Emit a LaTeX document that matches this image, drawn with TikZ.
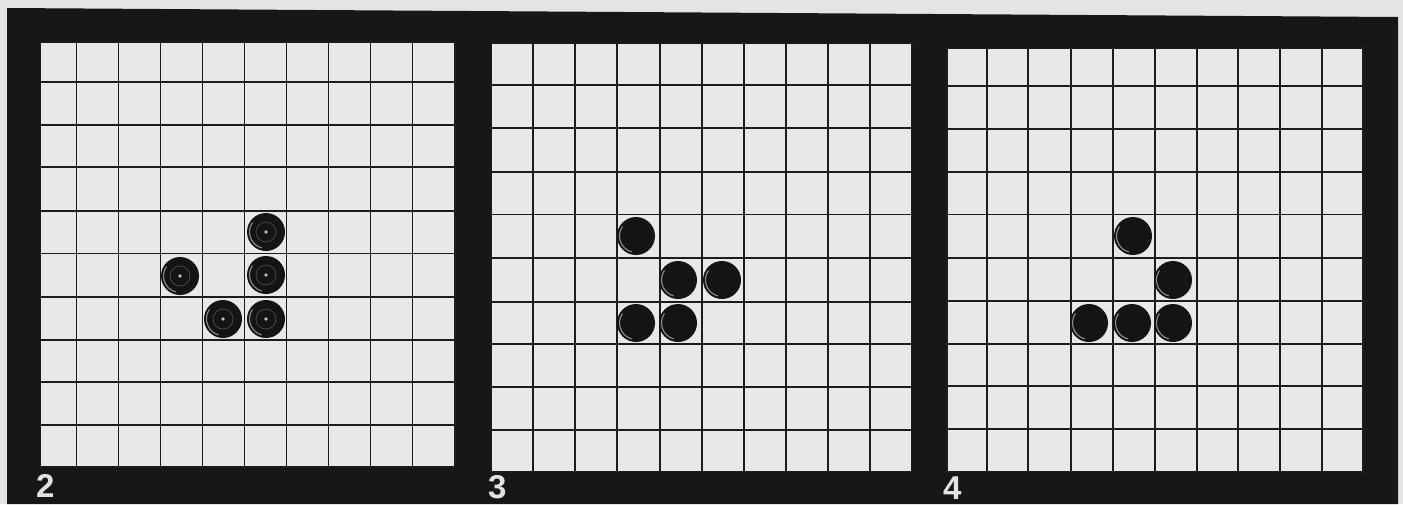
\documentclass[tikz,border=0pt]{standalone}
\usepackage{fontspec}
\setmainfont{Liberation Sans}
\definecolor{paper}{HTML}{E4E4E4}
\definecolor{frame}{HTML}{171717}
\definecolor{cell}{HTML}{E8E8E8}
\definecolor{gline}{HTML}{1C1C1C}
\definecolor{cblack}{HTML}{141414}
\definecolor{labelc}{HTML}{E2E2E2}
\tikzset{
  gridline/.style={draw=gline, line width=1.7pt},
  boardrect/.style={fill=cell},
  counter/.style={circle, fill=cblack, minimum size=38pt, inner sep=0pt,
    path picture={
      \draw[white!55!black, line width=1.1pt]
        (path picture bounding box.center) ++(105:16.5) arc[start angle=105, end angle=215, radius=16.5];
    }},
  button/.style={counter,
    path picture={
      \draw[white!55!black, line width=1.1pt]
        (path picture bounding box.center) ++(105:16.5) arc[start angle=105, end angle=215, radius=16.5];
      \draw[white!30!black, line width=0.7pt]
        (path picture bounding box.center) circle[radius=10];
      \fill[white!75!black]
        (path picture bounding box.center) circle[radius=1.8];
    }},
  numlabel/.style={anchor=base west, inner sep=0pt, text depth=0pt, text=labelc,
    font=\fontsize{33}{33}\selectfont\bfseries},
}
\begin{document}
\begin{tikzpicture}[x=1pt,y=-1pt]
\useasboundingbox (0,0) rectangle (1403,504);
\fill[paper] (0,0) rectangle (1403,504);
\fill[frame] (7,8) -- (1398,17) -- (1398,504) -- (7,504) -- cycle;

% board 2
\fill[boardrect] (40,42) rectangle (455,467);
\foreach \x in {76.5,118.5,160.5,202.5,244.5,286.5,328.5,370.5,412.5}
  \draw[gridline] (\x,42) -- (\x,467);
\foreach \y in {81.7,125,167,211,253.5,297,340,382,425}
  \draw[gridline] (40,\y) -- (455,\y);
\draw[gridline] (40,42) rectangle (455,467);

% board 3
\fill[boardrect] (491.5,43.5) rectangle (912,472);
\foreach \x in {533,575,617,660,702,744,786,828,870}
  \draw[gridline] (\x,43.5) -- (\x,472);
\foreach \y in {85,128.3,171.7,214.5,258.3,301.7,344.3,386.7,430}
  \draw[gridline] (491.5,\y) -- (912,\y);
\draw[gridline] (491.5,43.5) rectangle (912,472);

% board 4
\fill[boardrect] (947,48) rectangle (1363,472);
\foreach \x in {987,1028,1071,1113,1155,1197,1238,1280,1322}
  \draw[gridline] (\x,48) -- (\x,472);
\foreach \y in {86,129,171.7,214.5,258.3,301,343.7,386,429.3}
  \draw[gridline] (947,\y) -- (1363,\y);
\draw[gridline] (947,48) rectangle (1363,472);

% counters board 2
\node[button] (a1) at (266,232) {};
\node[button] (a2) at (180,276) {};
\node[button] (a3) at (266,275) {};
\node[button] (a4) at (223,319) {};
\node[button] (a5) at (266,319) {};

% counters board 3
\node[counter] (b1) at (636,236) {};
\node[counter] (b2) at (678,280) {};
\node[counter] (b3) at (722,280) {};
\node[counter] (b4) at (636,323) {};
\node[counter] (b5) at (678,323) {};

% counters board 4
\node[counter] (c1) at (1133,236) {};
\node[counter] (c2) at (1173,280) {};
\node[counter] (c3) at (1089,323) {};
\node[counter] (c4) at (1132,323) {};
\node[counter] (c5) at (1173,323) {};

% labels
\node[numlabel] (l2) at (36,497) {2};
\node[numlabel] (l3) at (488,498) {3};
\node[numlabel] (l4) at (943,499) {4};
\end{tikzpicture}
\end{document}
